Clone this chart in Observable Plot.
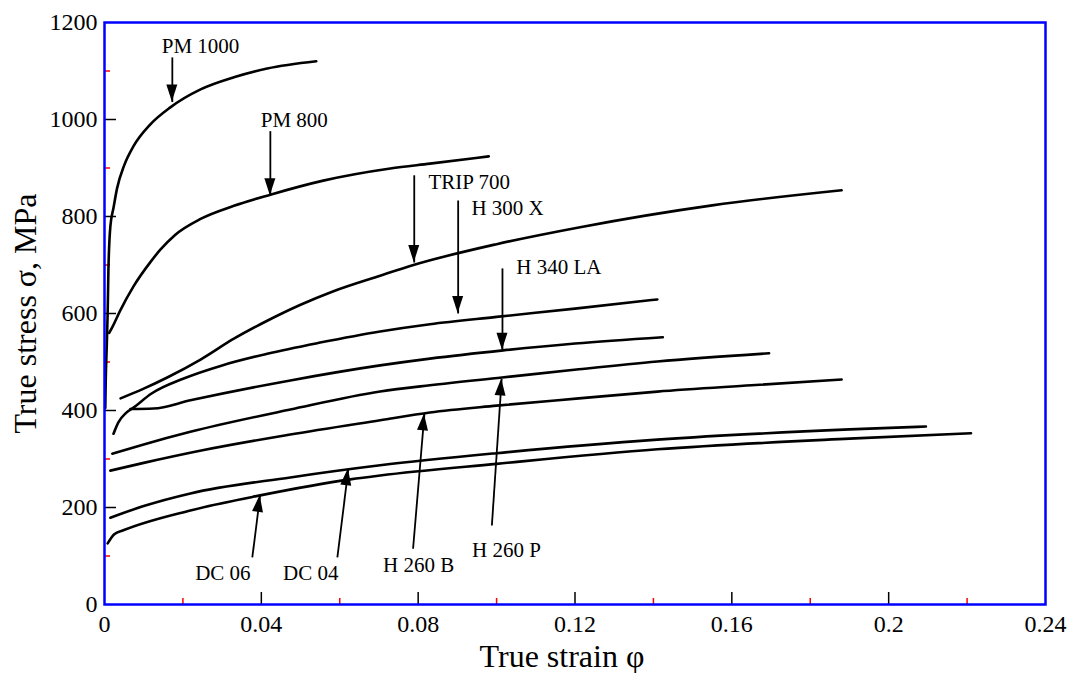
<!DOCTYPE html>
<html><head><meta charset="utf-8">
<script src="https://cdn.jsdelivr.net/npm/d3@7"></script>
<script src="https://cdn.jsdelivr.net/npm/@observablehq/plot@0.6"></script>
<style>
html,body{margin:0;padding:0;background:#fff;}
#chart svg{display:block;}
</style>
</head><body><div id="chart"></div>
<script>
// Axis ticks
const xTicks = [0, 0.04, 0.08, 0.12, 0.16, 0.2, 0.24];
const xMajorInner = [0.04, 0.08, 0.12, 0.16, 0.2];
const xMinor = [0.02, 0.06, 0.1, 0.14, 0.18, 0.22];
const yTicks = [0, 200, 400, 600, 800, 1000, 1200];
const yMajorInner = [200, 400, 600, 800, 1000];
const yMinor = [100, 300, 500, 700, 900, 1100];

// Flow curves (true strain, true stress MPa)
const pm1000Strain = [0.0002,0.0003,0.0006,0.0008,0.0010,0.0015,0.0023,0.0032,0.005,0.0074,0.0117,0.0168,0.0245,0.033,0.0415,0.054];
const pm1000Stress = [405,456,540,600,690,780,818,858,905,945,990,1025,1062,1087,1105,1120];
const pm800Strain = [0.0012,0.002,0.004,0.0074,0.0117,0.0143,0.018,0.0245,0.033,0.0423,0.0558,0.0729,0.083,0.098];
const pm800Stress = [560,572,606,656,706,732,762,795,822,845,874,899,909,924];
const trip700Strain = [0.0041,0.01,0.016,0.0245,0.033,0.0415,0.05,0.0584,0.0703,0.0788,0.1,0.1213,0.155,0.188];
const trip700Stress = [425,445,468,505,548,585,618,646,678,700,743,778,823,854];
const h300xStrain = [0.0023,0.0035,0.0055,0.0074,0.012,0.0202,0.03,0.0415,0.055,0.0703,0.083,0.1,0.12,0.141];
const h300xStress = [352,375,395,406,435,466,493,517,540,563,578,593,610,629];
const h340laStrain = [0.0066,0.0125,0.0219,0.0474,0.0703,0.083,0.1017,0.12,0.1424];
const h340laStress = [403,404,421,462,493,507,524,538,551];
const h260pStrain = [0.002,0.01,0.0219,0.0474,0.0703,0.083,0.1014,0.121,0.141,0.1695];
const h260pStress = [311,330,356,402,439,452,468,485,501,518];
const h260bStrain = [0.0015,0.01,0.025,0.047,0.0703,0.083,0.1,0.121,0.141,0.165,0.188];
const h260bStress = [276,292,318,350,380,396,410,425,439,452,464];
const dc04Strain = [0.0015,0.01,0.0219,0.0474,0.0703,0.1,0.141,0.19,0.2095];
const dc04Stress = [179,203,229,262,287,312,340,361,367];
const dc06Strain = [0.0008,0.0025,0.0048,0.0219,0.0397,0.0627,0.0703,0.1,0.141,0.19,0.221];
const dc06Stress = [126,145,153,194,225,258,266,290,320,342,353];

const seriesNames = ["PM 1000","PM 800","TRIP 700","H 300 X","H 340 LA","H 260 P","H 260 B","DC 04","DC 06"];
const seriesStrain = [pm1000Strain,pm800Strain,trip700Strain,h300xStrain,h340laStrain,h260pStrain,h260bStrain,dc04Strain,dc06Strain];
const seriesStress = [pm1000Stress,pm800Stress,trip700Stress,h300xStress,h340laStress,h260pStress,h260bStress,dc04Stress,dc06Stress];

// Annotation labels and arrows
const labelNames = ["PM 1000","PM 800","TRIP 700","H 300 X","H 340 LA","H 260 P","H 260 B","DC 06","DC 04"];
const labelX = [0.0245,0.0484,0.093,0.1028,0.1159,0.1025,0.0801,0.0302,0.0526];
const labelY = [1151,998,870,816,695,111,80,64,64];
const arrowX1 = [0.0173,0.0423,0.079,0.0902,0.1015,0.0988,0.0787,0.0377,0.0594];
const arrowY1 = [1128,976,885,833,693,163,115,97,97];
const arrowX2 = [0.0173,0.0423,0.079,0.0902,0.1015,0.1013,0.0816,0.0397,0.0622];
const arrowY2 = [1036,843,705,600,524,465,393,225,280];

const curves = [];
seriesNames.forEach((name, i) => {
  seriesStrain[i].forEach((s, j) => curves.push({name, strain: s, stress: seriesStress[i][j]}));
});
const labels = labelNames.map((t, i) => ({t, x: labelX[i], y: labelY[i]}));
const arrows = labelNames.map((t, i) => ({x1: arrowX1[i], y1: arrowY1[i], x2: arrowX2[i], y2: arrowY2[i]}));

const W = 1073, H = 673, mL = 104, mR = 28, mT = 22, mB = 69;
const plotW = W - mL - mR, plotH = H - mT - mB;
const font = "'Liberation Serif', 'Times New Roman', serif";

function arrowHeads(index, scales) {
  const g = d3.create("svg:g").attr("aria-label", "arrowheads");
  for (const a of arrows) {
    const x1 = scales.x(a.x1), y1 = scales.y(a.y1), x2 = scales.x(a.x2), y2 = scales.y(a.y2);
    const ang = Math.atan2(y2 - y1, x2 - x1);
    const L = 17, hw = 5.5;
    const bx = x2 - L * Math.cos(ang), by = y2 - L * Math.sin(ang);
    const px = -Math.sin(ang) * hw, py = Math.cos(ang) * hw;
    g.append("path")
      .attr("d", `M${x2},${y2}L${bx + px},${by + py}L${bx - px},${by - py}Z`)
      .attr("fill", "black");
  }
  return g.node();
}

const chart = Plot.plot({
  width: W, height: H,
  marginLeft: mL, marginRight: mR, marginTop: mT, marginBottom: mB,
  style: {fontFamily: font, background: "#fff", color: "black"},
  x: {domain: [0, 0.24], axis: null},
  y: {domain: [0, 1200], axis: null},
  marks: [
    // inner ticks
    Plot.tickX(xMajorInner, {x: d => d, stroke: "black", strokeWidth: 1.5, insetTop: plotH - 12}),
    Plot.tickX(xMinor, {x: d => d, stroke: "red", strokeWidth: 1.5, insetTop: plotH - 6}),
    Plot.tickY(yMajorInner, {y: d => d, stroke: "black", strokeWidth: 1.5, insetRight: plotW - 12}),
    Plot.tickY(yMinor, {y: d => d, stroke: "red", strokeWidth: 1.5, insetRight: plotW - 6}),
    // tick labels
    Plot.text(xTicks, {x: d => d, y: 0, text: d => String(d), dy: 20, fontSize: 24, fill: "black"}),
    Plot.text(yTicks, {x: 0, y: d => d, text: d => String(d), textAnchor: "end", dx: -7, fontSize: 24, fill: "black"}),
    // axis titles
    Plot.text(["True strain φ"], {frameAnchor: "bottom", lineAnchor: "middle", textAnchor: "middle", dy: 52, dx: -13, fontSize: 32, fill: "black"}),
    Plot.text(["True stress σ, MPa"], {frameAnchor: "left", lineAnchor: "middle", textAnchor: "middle", dx: -79, rotate: -90, fontSize: 32, fill: "black"}),
    // curves
    Plot.line(curves, {x: "strain", y: "stress", z: "name", stroke: "black", strokeWidth: 2.6, curve: "monotone-x"}),
    // arrows
    Plot.link(arrows, {x1: "x1", y1: "y1", x2: "x2", y2: "y2", stroke: "black", strokeWidth: 1.8}),
    arrowHeads,
    // labels
    Plot.text(labels, {x: "x", y: "y", text: "t", fontSize: 21, fill: "black"}),
    Plot.frame({stroke: "#0000ff", strokeWidth: 2.5})
  ]
});
document.getElementById("chart").appendChild(chart);
</script>
</body></html>
